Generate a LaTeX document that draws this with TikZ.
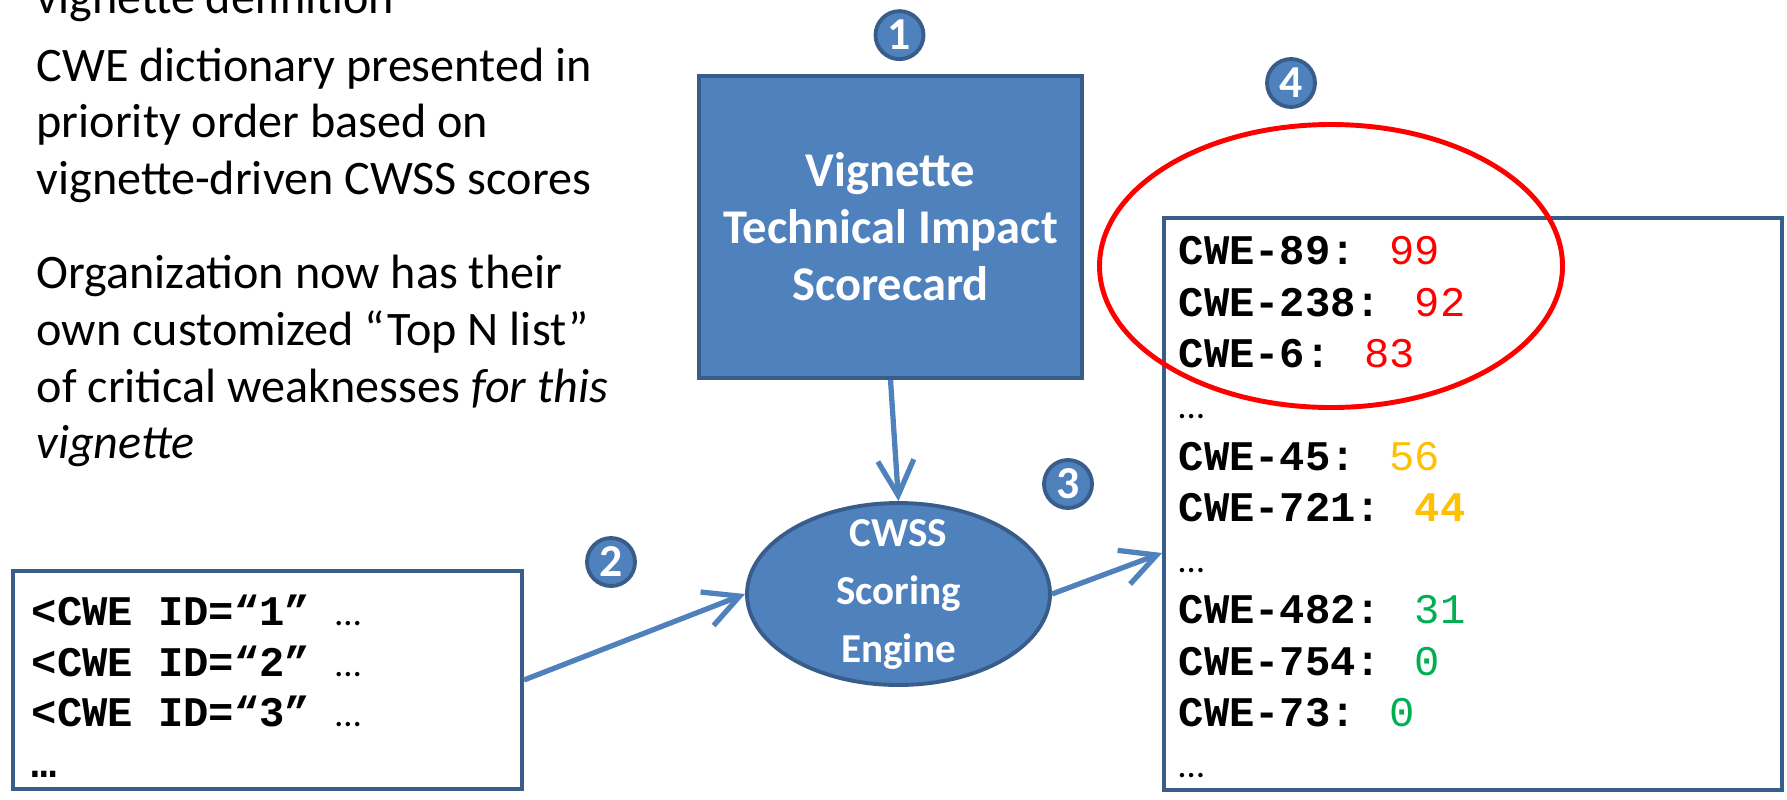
\documentclass[tikz,border=0pt]{standalone}
\usepackage{fontspec}
\setmainfont{Carlito}
\newfontfamily\codefont{Liberation Mono}
\usetikzlibrary{arrows.meta,shapes.geometric,positioning}

\definecolor{boxblue}{HTML}{4F81BD}
\definecolor{boxedge}{HTML}{385D8A}
\definecolor{scorehi}{HTML}{FF0000}
\definecolor{scoremid}{HTML}{FFC000}
\definecolor{scorelo}{HTML}{00B050}

\newcommand\skipmark{{\rmfamily\mdseries\fontsize{10.5}{12}\selectfont …}}

\begin{document}
\begin{tikzpicture}[
        bodytext/.style={anchor=base west, inner sep=0pt, font=\fontsize{13.7}{16.2}\selectfont},
        process/.style={rectangle, draw=boxedge, line width=1.1pt, fill=boxblue, text=white, align=center, font=\bfseries\fontsize{13.8}{16.2}\selectfont},
        engine/.style={ellipse, draw=boxedge, line width=1.1pt, fill=boxblue, inner sep=0pt},
        enginetext/.style={text=white, align=center, inner sep=0pt, font=\bfseries\fontsize{11.7}{16.5}\selectfont},
        listbox/.style={rectangle, draw=boxedge, line width=1.1pt, fill=white, inner sep=0pt},
        coderow/.style={anchor=base west, inner sep=0pt, font=\codefont\bfseries\fontsize{12}{14.5}\selectfont},
        stepmark/.style={circle, draw=boxedge, line width=1.1pt, fill=boxblue, text=white, minimum size=0.48cm, inner sep=0pt, font=\bfseries\fontsize{13}{13}\selectfont},
        flow/.style={draw=boxblue, line width=1.5pt, -{Straight Barb[length=3.5mm, width=3.6mm]}},
        hilite/.style={ellipse, draw=scorehi, line width=1.4pt, inner sep=0pt}
    ]
        \useasboundingbox (0,0) rectangle (17.87,-7.99);

        % Notes on the left
        \foreach \y/\txt [count=\i] in {0.13/vignette definition,
                0.81/CWE dictionary presented in,
                1.37/priority order based on,
                1.94/vignette-driven CWSS scores,
                2.88/Organization now has their,
                3.45/own customized “Top N list”,
                4.02/of critical weaknesses \textit{for this},
                4.58/\textit{vignette}} {
            \node[bodytext] (note\i) at (0.36,-\y) {\txt};
        }

        % Scorecard, engine and the two lists
        \node[process, minimum width=3.83cm, minimum height=3.02cm] (vignette) at (8.905,-2.27) {Vignette\\Technical Impact\\Scorecard};
        \node[engine, minimum width=3.03cm, minimum height=1.82cm] (engine) at (8.985,-5.94) {};
        \node[enginetext] (enginelabel) at (engine.center) {CWSS\\Scoring\\Engine};
        \node[listbox, minimum width=5.09cm, minimum height=2.18cm] (xml) at (2.675,-6.80) {};
        \node[listbox, minimum width=6.18cm, minimum height=5.72cm] (rank) at (14.73,-5.04) {};

        % Dictionary entries
        \foreach \txt [count=\i] in {{<CWE ID=“1” \skipmark},
                {<CWE ID=“2” \skipmark},
                {<CWE ID=“3” \skipmark},
                {…}} {
            \node[coderow] (entry\i) at (0.31,-5.75-0.505*\i) {\txt};
        }

        % Scored entries
        \foreach \txt [count=\i] in {{CWE-89: \textcolor{scorehi}{\mdseries 99}},
                {CWE-238: \textcolor{scorehi}{\mdseries 92}},
                {CWE-6: \textcolor{scorehi}{\mdseries 83}},
                {\skipmark},
                {CWE-45: \textcolor{scoremid}{\mdseries 56}},
                {CWE-721: \textcolor{scoremid}{44}},
                {\skipmark},
                {CWE-482: \textcolor{scorelo}{\mdseries 31}},
                {CWE-754: \textcolor{scorelo}{\mdseries 0}},
                {CWE-73: \textcolor{scorelo}{\mdseries 0}},
                {\skipmark}} {
            \node[coderow] (score\i) at (11.78,-2.135-0.513*\i) {\txt};
        }

        % Flow
        \draw[flow] (vignette.south) -- (engine.north);
        \draw[flow] (xml.east) -- (engine.west);
        \draw[flow] (engine.east) -- ([yshift=-0.49cm]rank.west);

        % Step numbers
        \node[stepmark, above=0.13cm of vignette, xshift=0.09cm] (stepone) {1};
        \node[stepmark] (steptwo) at (6.11,-5.62) {2};
        \node[stepmark] (stepthree) at (10.68,-4.84) {3};
        \node[stepmark] (stepfour) at (12.91,-0.83) {4};

        % Top of the list
        \node[hilite, minimum width=4.63cm, minimum height=2.83cm] (topthree) at (13.31,-2.66) {};
    \end{tikzpicture}
\end{document}
